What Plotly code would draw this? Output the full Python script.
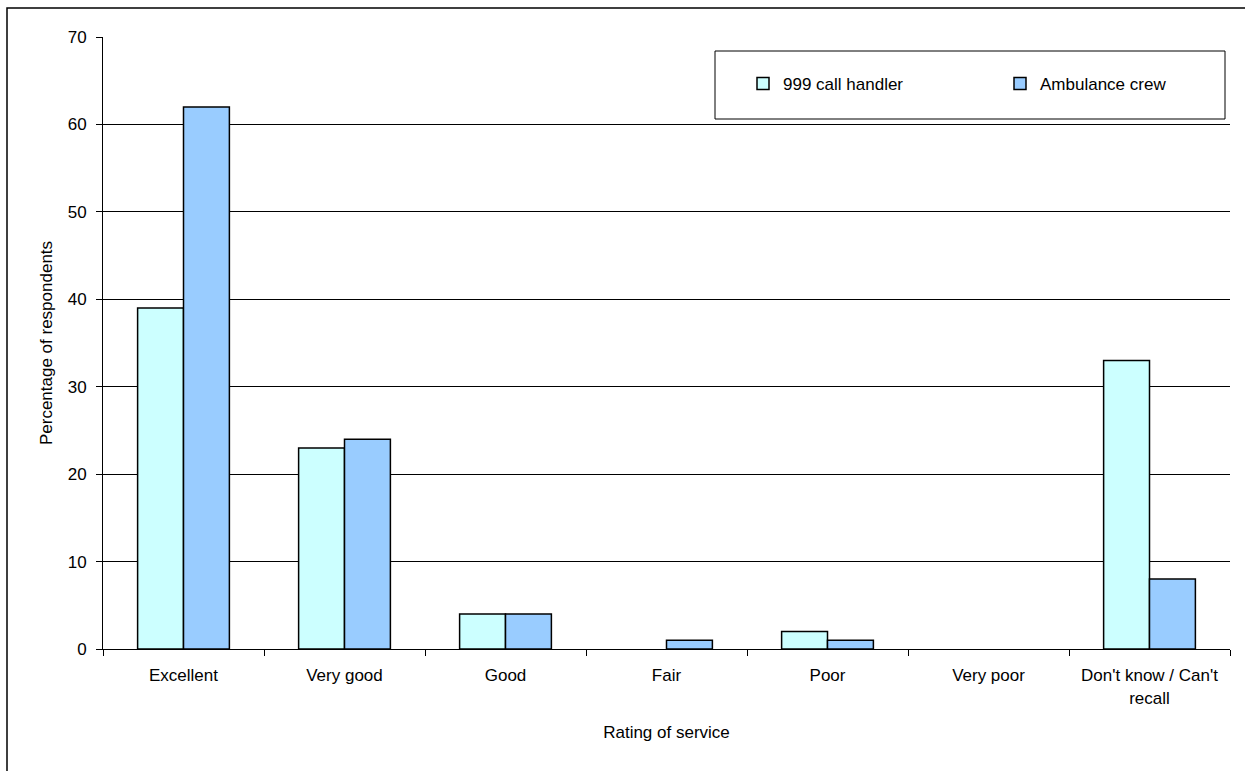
import plotly.graph_objects as go

categories = ["Excellent", "Very good", "Good", "Fair", "Poor", "Very poor", "Don't know / Can't<br>recall"]
call_handler = [39, 23, 4, 0, 2, 0, 33]
ambulance_crew = [62, 24, 4, 1, 1, 0, 8]
series_names = ["999 call handler", "Ambulance crew"]
y_ticks = [0, 10, 20, 30, 40, 50, 60, 70]

FONT = "Liberation Sans, Arial, sans-serif"
FS = 17

def outline_widths(vals):
    return [0 if v == 0 else 1.5 for v in vals]

fig = go.Figure()
fig.add_trace(go.Bar(x=categories, y=call_handler, name=series_names[0], legend="legend",
                     marker=dict(color="#CCFFFF",
                                 line=dict(color="black", width=outline_widths(call_handler)))))
fig.add_trace(go.Bar(x=categories, y=ambulance_crew, name=series_names[1], legend="legend2",
                     marker=dict(color="#99CCFF",
                                 line=dict(color="black", width=outline_widths(ambulance_crew)))))

L, R, T, B = 103, 15, 37, 122
W, H = 1245, 771
pw, ph = W - L - R, H - T - B

def px(x):
    return (x - L) / pw

def py(y):
    return 1 - (y - T) / ph

leg_common = dict(orientation="h", xanchor="left", yanchor="middle",
                  bgcolor="rgba(0,0,0,0)", borderwidth=0, itemwidth=30,
                  font=dict(family=FONT, size=FS, color="black"))

fig.update_layout(
    width=W, height=H,
    margin=dict(l=L, r=R, t=T, b=B, pad=0, autoexpand=False),
    paper_bgcolor="white", plot_bgcolor="white",
    font=dict(family=FONT, size=FS, color="black"),
    barmode="group", bargap=0.43, bargroupgap=0,
    showlegend=True,
    legend=dict(x=px(743), y=py(84), **leg_common),
    legend2=dict(x=px(1000), y=py(84), **leg_common),
    xaxis=dict(showline=True, linecolor="black", linewidth=1, ticks="outside",
               tickson="boundaries", ticklen=6, tickcolor="black", showgrid=False,
               automargin=False, ticklabelstandoff=11,
               title=dict(text="Rating of service", standoff=19,
                          font=dict(family=FONT, size=FS, color="black"))),
    yaxis=dict(range=[0, 70], tickvals=y_ticks, showline=True, linecolor="black", linewidth=1,
               ticks="outside", ticklen=6, tickcolor="black", showgrid=True,
               gridcolor="black", gridwidth=1, zeroline=False, automargin=False,
               ticklabelstandoff=6,
               title=dict(text="Percentage of respondents", standoff=10,
                          font=dict(family=FONT, size=FS, color="black"))),
    shapes=[
        dict(type="rect", xref="paper", yref="paper", x0=px(715), x1=px(1225), y0=py(119), y1=py(51),
             line=dict(color="black", width=1), fillcolor="rgba(0,0,0,0)"),
        dict(type="rect", xref="paper", yref="paper", x0=px(7), x1=px(1250), y0=py(790), y1=py(8),
             line=dict(color="black", width=1.5), fillcolor="rgba(0,0,0,0)"),
    ],
)

fig.write_html("out.html")
